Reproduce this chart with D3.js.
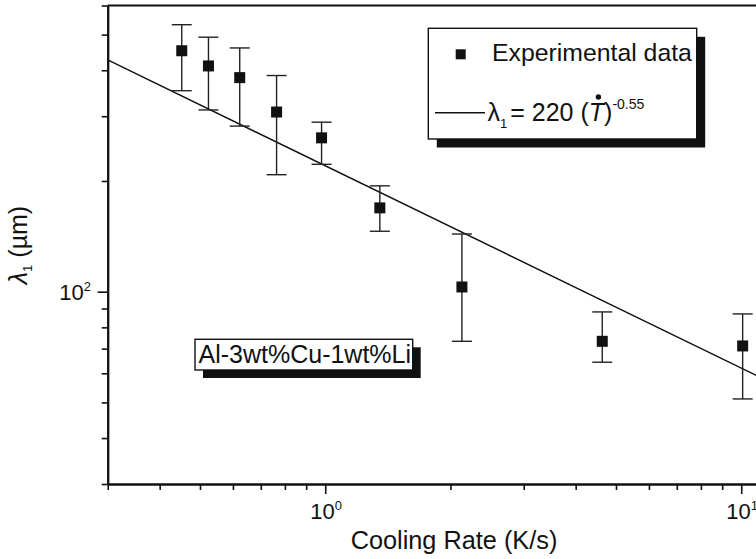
<!DOCTYPE html>
<html>
<head>
<meta charset="utf-8">
<script src="https://cdn.jsdelivr.net/npm/d3@7/dist/d3.min.js"></script>
<style>
  html, body { margin: 0; padding: 0; background: #fff; }
  svg { display: block; }
  text { font-family: "Liberation Sans", Arial, Helvetica, sans-serif; fill: #111; }
</style>
</head>
<body>
<svg id="chart" width="756" height="559"></svg>
<script>
// Measured primary dendrite arm spacing against cooling rate
const coolingRate = [0.452, 0.524, 0.623, 0.764, 0.980, 1.353, 2.131, 4.634, 10.08];
const lambda1     = [452, 411, 382, 308, 262, 169, 103, 73.3, 71.2];
const lambdaLow   = [352, 312, 282, 208, 222, 146, 73.3, 64.3, 51.1];
const lambdaHigh  = [532, 492, 460, 387, 289, 194, 143.5, 88.1, 87.0];

// Power-law fit  λ1 = A · Ṫ^B
const fitA = 220;
const fitB = -0.55;

// Axis ticks
const xMajor = [1, 10];
const xMinor = [0.3, 0.4, 0.5, 0.6, 0.7, 0.8, 0.9, 2, 3, 4, 5, 6, 7, 8, 9];
const xMajorExp = ["0", "1"];
const yMajor = [100];
const yMinor = [30, 40, 50, 60, 70, 80, 90, 200, 300, 400, 500, 600];
const yMajorExp = ["2"];

const svg = d3.select("#chart");
svg.append("rect").attr("width", 756).attr("height", 559).attr("fill", "#fff");

const plotLeft = 107.7, plotTop = 5.5, plotBottom = 484;
const pxPerDecadeX = 416;
const xDomain = [0.3, 12];

const x = d3.scaleLog().domain(xDomain)
  .range([plotLeft, plotLeft + pxPerDecadeX * Math.log10(xDomain[1] / xDomain[0])]);
const y = d3.scaleLog().domain([30, 600]).range([plotBottom, plotTop]);

const ink = "#111";

// ---- axes ----
function styleAxis(g, width) {
  g.selectAll("path.domain").attr("stroke", ink).attr("stroke-width", 2);
  g.selectAll(".tick line").attr("stroke", ink).attr("stroke-width", width);
  g.selectAll(".tick text").remove();
}

const gx = svg.append("g").attr("transform", `translate(0,${plotBottom})`);
gx.append("g").call(d3.axisBottom(x).tickValues(xMinor).tickSize(6).tickSizeOuter(0))
  .call(g => styleAxis(g, 1.6));
gx.append("g").call(d3.axisBottom(x).tickValues(xMajor).tickSize(10).tickSizeOuter(0))
  .call(g => styleAxis(g, 1.6));

const gy = svg.append("g").attr("transform", `translate(${plotLeft},0)`);
gy.append("g").call(d3.axisLeft(y).tickValues(yMinor).tickSize(6).tickSizeOuter(0))
  .call(g => styleAxis(g, 1.6));
gy.append("g").call(d3.axisLeft(y).tickValues(yMajor).tickSize(10).tickSizeOuter(0))
  .call(g => styleAxis(g, 1.6));

// top frame line
svg.append("line")
  .attr("x1", plotLeft).attr("x2", x.range()[1])
  .attr("y1", plotTop).attr("y2", plotTop)
  .attr("stroke", ink).attr("stroke-width", 2);

// x tick labels (powers of ten)
xMajor.forEach((v, i) => {
  const t = svg.append("text")
    .attr("x", x(v) + 1).attr("y", 519)
    .attr("text-anchor", "middle")
    .attr("font-size", 22);
  t.append("tspan").text("10");
  t.append("tspan").attr("dy", -9).attr("font-size", 13).text(xMajorExp[i]);
});

// y tick labels
yMajor.forEach((v, i) => {
  const t = svg.append("text")
    .attr("x", 91).attr("y", y(v) + 8)
    .attr("text-anchor", "end")
    .attr("font-size", 22);
  t.append("tspan").text("10");
  t.append("tspan").attr("dy", -9).attr("font-size", 13).text(yMajorExp[i]);
});

// axis titles
svg.append("text")
  .attr("x", 454).attr("y", 549)
  .attr("text-anchor", "middle")
  .attr("font-size", 25.3)
  .text("Cooling Rate (K/s)");

const yTitle = svg.append("text")
  .attr("transform", "translate(27,245) rotate(-90)")
  .attr("text-anchor", "middle")
  .attr("font-size", 25);
yTitle.append("tspan").attr("font-style", "italic").text("λ");
yTitle.append("tspan").attr("font-size", 13).attr("dy", 5).text("1");
yTitle.append("tspan").attr("dy", -5).text(" (µm)");

// ---- fit line ----
const fitX = [xDomain[0], xDomain[1]];
svg.append("path")
  .datum(fitX.map(v => [v, fitA * Math.pow(v, fitB)]))
  .attr("d", d3.line().x(d => x(d[0])).y(d => y(d[1])))
  .attr("fill", "none").attr("stroke", ink).attr("stroke-width", 1.4);

// ---- error bars and markers ----
const pts = coolingRate.map((c, i) => ({ c, v: lambda1[i], lo: lambdaLow[i], hi: lambdaHigh[i] }));
const capHalf = 10;
const eg = svg.append("g").attr("stroke", "#222").attr("stroke-width", 1.4);
pts.forEach(p => {
  eg.append("line").attr("x1", x(p.c)).attr("x2", x(p.c)).attr("y1", y(p.hi)).attr("y2", y(p.lo));
  eg.append("line").attr("x1", x(p.c) - capHalf).attr("x2", x(p.c) + capHalf).attr("y1", y(p.hi)).attr("y2", y(p.hi));
  eg.append("line").attr("x1", x(p.c) - capHalf).attr("x2", x(p.c) + capHalf).attr("y1", y(p.lo)).attr("y2", y(p.lo));
});
const ms = 11;
svg.append("g").selectAll("rect").data(pts).join("rect")
  .attr("x", d => x(d.c) - ms / 2).attr("y", d => y(d.v) - ms / 2)
  .attr("width", ms).attr("height", ms).attr("fill", ink);

// ---- boxes with drop shadow ----
function shadowBox(bx, by, bw, bh, off) {
  svg.append("rect").attr("x", bx + off).attr("y", by + off).attr("width", bw).attr("height", bh).attr("fill", ink);
  svg.append("rect").attr("x", bx).attr("y", by).attr("width", bw).attr("height", bh)
    .attr("fill", "#fff").attr("stroke", ink).attr("stroke-width", 1.4);
}

// legend
shadowBox(428.3, 28.3, 268.4, 110.7, 8.5);
svg.append("rect").attr("x", 460.7 - 5).attr("y", 54.3 - 5).attr("width", 10).attr("height", 10).attr("fill", ink);
svg.append("text").attr("x", 492).attr("y", 61).attr("font-size", 24.8).text("Experimental data");
svg.append("line").attr("x1", 435).attr("x2", 485).attr("y1", 112.7).attr("y2", 112.7)
  .attr("stroke", ink).attr("stroke-width", 1.4);

// formula label, laid out piece by piece
(function () {
  let cx = 487.5;
  const base = 121;
  function piece(str, opts) {
    const t = svg.append("text").attr("x", cx).attr("y", base + (opts.dy || 0))
      .attr("font-size", opts.size).text(str);
    if (opts.italic) t.attr("font-style", "italic");
    const w = t.node().getComputedTextLength();
    const start = cx;
    cx += w + (opts.gap || 0);
    return { start, w };
  }
  piece("λ", { size: 25 });
  piece("1", { size: 13, dy: 7, gap: 3 });
  piece(" = 220 (", { size: 25 });
  const T = piece("T", { size: 25, italic: true });
  svg.append("circle").attr("cx", T.start + T.w / 2 + 2).attr("cy", base - 24).attr("r", 2.7).attr("fill", ink);
  piece(")", { size: 25 });
  piece("-0.55", { size: 14, dy: -12 });
})();

// alloy annotation
shadowBox(195, 339.3, 217.7, 30.7, 8);
svg.append("text").attr("x", 198.5).attr("y", 363).attr("font-size", 25).text("Al-3wt%Cu-1wt%Li");
</script>
</body>
</html>
